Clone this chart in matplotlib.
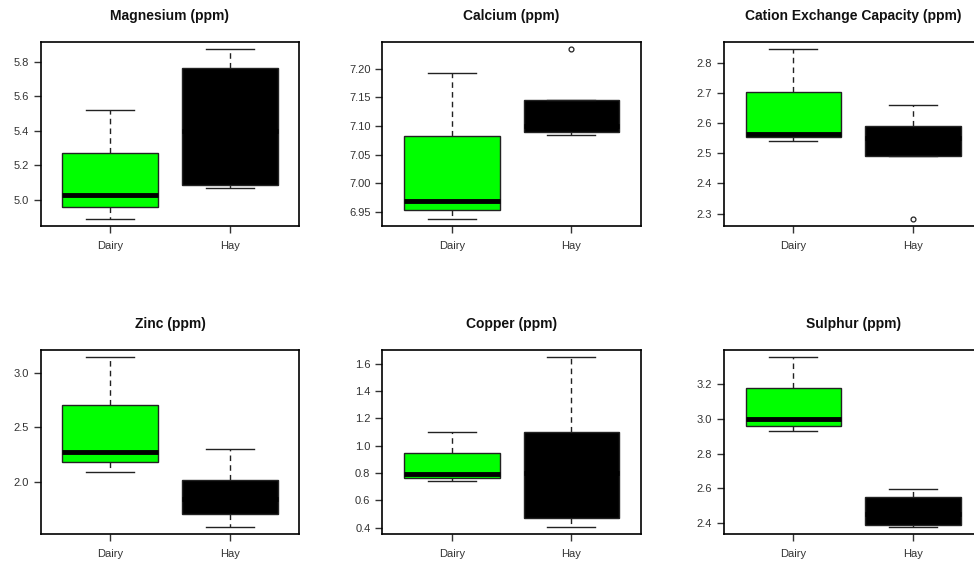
import numpy as np
import matplotlib.pyplot as plt
from matplotlib.ticker import MultipleLocator, FormatStrFormatter

plt.rcParams['font.family'] = ['Liberation Sans', 'DejaVu Sans']

# soil variables, one panel each
titles = ["Magnesium (ppm)", "Calcium (ppm)", "Cation Exchange Capacity (ppm)",
          "Zinc (ppm)", "Copper (ppm)", "Sulphur (ppm)"]
groups = ["Dairy", "Hay"]

# Dairy box stats
dairy_low = [4.89, 6.938, 2.542, 2.091, 0.741, 2.929]
dairy_q1 = [4.96, 6.953, 2.554, 2.182, 0.763, 2.960]
dairy_med = [5.027, 6.970, 2.565, 2.274, 0.793, 2.998]
dairy_q3 = [5.274, 7.082, 2.704, 2.705, 0.946, 3.177]
dairy_high = [5.52, 7.193, 2.845, 3.146, 1.102, 3.360]
dairy_out = [[], [], [], [], [], []]

# Hay box stats
hay_low = [5.071, 7.084, 2.492, 1.593, 0.405, 2.377]
hay_q1 = [5.087, 7.090, 2.492, 1.711, 0.471, 2.388]
hay_med = [5.40, 7.100, 2.550, 1.850, 0.800, 2.450]
hay_q3 = [5.765, 7.145, 2.589, 2.018, 1.102, 2.550]
hay_high = [5.873, 7.145, 2.661, 2.301, 1.651, 2.594]
hay_out = [[], [7.234], [2.282], [], [], []]

tick_steps = [0.2, 0.05, 0.1, 0.5, 0.2, 0.2]
tick_fmt = ['%.1f', '%.2f', '%.1f', '%.1f', '%.1f', '%.1f']

fig = plt.figure(figsize=(9.74, 5.62), dpi=100)

lefts = [0.0418, 0.3925, 0.7433]
bottoms = [0.598, 0.0504]
w, h = 0.2654, 0.327

for i, title in enumerate(titles):
    ax = fig.add_axes([lefts[i % 3], bottoms[i // 3], w, h])
    stats = [
        dict(whislo=dairy_low[i], q1=dairy_q1[i], med=dairy_med[i], q3=dairy_q3[i],
             whishi=dairy_high[i], fliers=dairy_out[i], label=groups[0]),
        dict(whislo=hay_low[i], q1=hay_q1[i], med=hay_med[i], q3=hay_q3[i],
             whishi=hay_high[i], fliers=hay_out[i], label=groups[1]),
    ]
    bp = ax.bxp(stats, positions=[1, 2], widths=0.8, patch_artist=True,
                boxprops=dict(linewidth=1.0, edgecolor='#222222'),
                medianprops=dict(color='black', linewidth=3.5, solid_capstyle='butt'),
                whiskerprops=dict(linestyle=(0, (4, 3)), linewidth=1.0, color='#222222'),
                capprops=dict(linewidth=1.0, color='#222222'),
                flierprops=dict(marker='o', markersize=3.5, markerfacecolor='none',
                                markeredgecolor='#222222', markeredgewidth=0.9),
                capwidths=0.4)
    bp['boxes'][0].set_facecolor('#00ff00')
    bp['boxes'][1].set_facecolor('black')

    # R style 4% padding around the data range
    vals = [dairy_low[i], dairy_high[i], hay_low[i], hay_high[i]] + dairy_out[i] + hay_out[i]
    lo, hi = min(vals), max(vals)
    pad = (hi - lo) * 0.04
    ax.set_ylim(lo - pad, hi + pad)
    ax.set_xlim(0.42, 2.58)

    ax.yaxis.set_major_locator(MultipleLocator(tick_steps[i]))
    ax.yaxis.set_major_formatter(FormatStrFormatter(tick_fmt[i]))
    ax.tick_params(axis='both', labelsize=8, colors='#333333', length=5, width=1.0,
                   labelcolor='#333333')
    ax.tick_params(axis='x', pad=6)
    for s in ax.spines.values():
        s.set_linewidth(1.2)
        s.set_color('black')
    ax.set_title(title, fontsize=10, fontweight='bold', pad=16, color='#111111')

plt.savefig('out.png', dpi=100)
